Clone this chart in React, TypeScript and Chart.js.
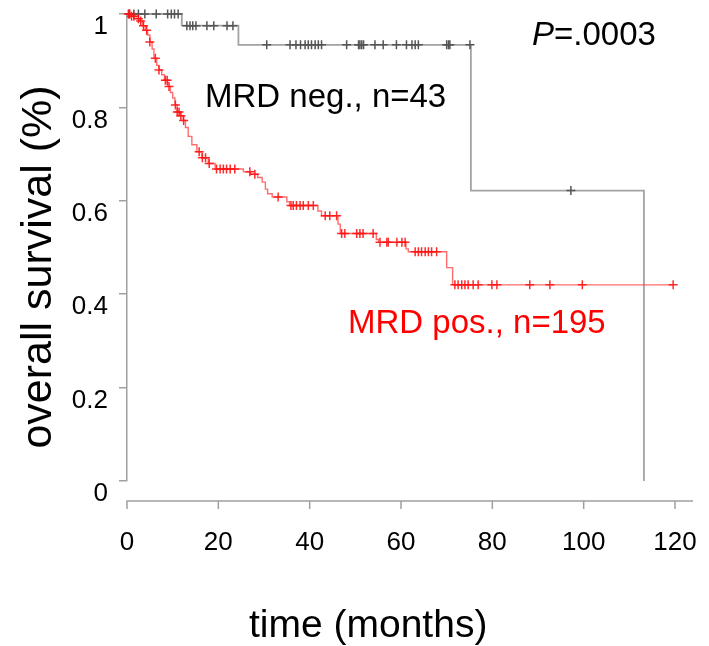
import React, { useEffect, useRef } from "react";
import { Chart, registerables } from "chart.js";

Chart.register(...registerables);

// ---- Data ----
const xTickValues = [0, 20, 40, 60, 80, 100, 120];

// MRD negative (n=43): step times (months) and survival after each step
const negTimes = [0, 12.0, 24.4, 75.3, 113.2];
const negSurv = [1.0, 0.975, 0.934, 0.622, 0.0];
const negCensor = [
  0.5, 1.5, 2.5, 3.9, 6.4, 8.9, 9.7, 10.4, 11.2,
  13.1, 13.8, 14.4, 15.1, 17.5, 19.0, 21.9, 23.2,
  30.6, 35.7, 37.0, 38.0, 39.0, 39.7, 40.4, 41.2, 41.9, 42.6, 48.1, 50.7, 51.0,
  51.4, 51.8, 54.3, 56.1, 59.0, 61.2, 62.4, 63.1, 63.8, 70.0, 70.4, 70.7, 75.1,
  97.2,
];

// MRD positive (n=195)
const posTimes = [
  0, 1.0, 2.0, 2.8, 3.4, 4.0, 4.5, 5.0, 5.5, 5.9, 6.5, 7.0, 7.6, 8.2, 8.9, 9.5,
  10.0, 10.5, 11.0, 11.6, 12.3, 12.8, 13.4, 14.2, 15.3, 16.4, 17.8, 19.3, 25.5,
  27.0, 28.6, 29.6, 30.3, 30.8, 31.8, 35.0, 35.6, 41.8, 42.6, 46.2, 46.7, 54.6,
  55.1, 61.1, 61.6, 70.0, 71.3, 119.6,
];
const posSurv = [
  1.0, 0.995, 0.99, 0.985, 0.975, 0.965, 0.955, 0.94, 0.925, 0.905, 0.89, 0.88,
  0.87, 0.858, 0.845, 0.832, 0.82, 0.805, 0.79, 0.782, 0.772, 0.757, 0.738, 0.72,
  0.705, 0.692, 0.68, 0.668, 0.662, 0.657, 0.65, 0.64, 0.625, 0.615, 0.608,
  0.598, 0.59, 0.578, 0.568, 0.55, 0.53, 0.517, 0.511, 0.497, 0.491, 0.457,
  0.42, 0.42,
];
const posCensor = [
  0.3, 0.6, 1.0, 1.5, 2.5, 3.0, 3.6, 4.3, 5.0, 6.2, 7.0, 8.4, 8.8, 9.2, 10.6,
  11.0, 11.4, 11.8, 12.4, 15.8, 16.5, 17.2, 18.0, 19.6, 20.4, 21.1, 21.8, 22.6,
  23.6, 26.9, 28.0, 33.1, 35.9, 36.4, 37.1, 37.9, 38.6, 39.7, 40.8, 43.4, 44.4,
  45.9, 47.0, 47.7, 50.3, 51.0, 51.7, 53.9, 55.4, 56.9, 57.2, 59.1, 60.2, 60.9,
  63.1, 63.8, 64.5, 65.3, 66.0, 66.7, 67.8, 71.8, 72.5, 73.3, 74.0, 74.7, 75.8,
  76.9, 79.9, 81.0, 88.2, 92.6, 99.7, 119.6,
];

const FONT = '"Liberation Sans", Arial, Helvetica, sans-serif';

function survAt(times: number[], surv: number[], t: number) {
  let v = surv[0];
  for (let i = 0; i < times.length; i++) {
    if (times[i] <= t) v = surv[i];
  }
  return v;
}

const rStylePlugin = {
  id: "rStyle",
  afterDraw(chart: any) {
    const ctx = chart.ctx as CanvasRenderingContext2D;
    const xs = chart.scales.x;
    const ys = chart.scales.y;
    const axisY = ys.bottom + 20;
    ctx.save();
    // detached x axis (R style)
    ctx.strokeStyle = "#a0a0a0";
    ctx.lineWidth = 1.5;
    ctx.beginPath();
    ctx.moveTo(xs.getPixelForValue(0) - 0.75, axisY);
    ctx.lineTo(xs.getPixelForValue(120) + 18, axisY);
    xTickValues.forEach((v) => {
      const px = xs.getPixelForValue(v);
      ctx.moveTo(px, axisY);
      ctx.lineTo(px, axisY + 8);
    });
    ctx.stroke();

    ctx.fillStyle = "#000";
    ctx.textBaseline = "alphabetic";
    ctx.textAlign = "left";
    // x title
    ctx.font = `39px ${FONT}`;
    ctx.fillText("time (months)", 249, 637);
    // y title
    ctx.save();
    ctx.translate(51, 267);
    ctx.rotate(-Math.PI / 2);
    ctx.textAlign = "center";
    ctx.font = `43px ${FONT}`;
    ctx.fillText("overall survival (%)", 0, 0);
    ctx.restore();

    // P value
    ctx.font = `italic 33px ${FONT}`;
    ctx.fillText("P", 532, 45);
    const pw = ctx.measureText("P").width;
    ctx.font = `33px ${FONT}`;
    ctx.fillText("=.0003", 532 + pw, 45);

    // group labels
    ctx.fillStyle = "#000";
    ctx.fillText("MRD neg., n=43", 205, 107);
    ctx.fillStyle = "#ff0000";
    ctx.fillText("MRD pos., n=195", 348, 333);
    ctx.restore();
  },
};

export default function App() {
  const canvasRef = useRef<HTMLCanvasElement | null>(null);

  useEffect(() => {
    if (!canvasRef.current) return;
    const negLine = negTimes.map((t, i) => ({ x: t, y: negSurv[i] }));
    const posLine = posTimes.map((t, i) => ({ x: t, y: posSurv[i] }));
    const negMarks = negCensor.map((t) => ({ x: t, y: survAt(negTimes, negSurv, t) }));
    const posMarks = posCensor.map((t) => ({ x: t, y: survAt(posTimes, posSurv, t) }));

    const chart = new Chart(canvasRef.current, {
      type: "line",
      data: {
        datasets: [
          {
            label: "MRD pos. censored",
            data: posMarks,
            showLine: false,
            pointStyle: "cross",
            pointRadius: 4.5,
            pointBorderWidth: 1.5,
            pointBorderColor: "rgba(255,20,20,0.9)",
            pointBackgroundColor: "rgba(255,20,20,0.9)",
            clip: false as any,
          },
          {
            label: "MRD pos.",
            data: posLine,
            stepped: true,
            borderColor: "rgba(255,60,60,0.75)",
            borderWidth: 1.4,
            pointRadius: 0,
            fill: false,
            clip: false as any,
          },
          {
            label: "MRD neg. censored",
            data: negMarks,
            showLine: false,
            pointStyle: "cross",
            pointRadius: 4.5,
            pointBorderWidth: 1.5,
            pointBorderColor: "#555555",
            pointBackgroundColor: "#555555",
            clip: false as any,
          },
          {
            label: "MRD neg.",
            data: negLine,
            stepped: true,
            borderColor: "#a3a3a3",
            borderWidth: 1.8,
            pointRadius: 0,
            fill: false,
            clip: false as any,
          },
        ],
      },
      options: {
        animation: false,
        responsive: false,
        devicePixelRatio: 1,
        layout: { padding: { top: 14, right: 34, bottom: 0, left: 0 } },
        plugins: {
          legend: { display: false },
          tooltip: { enabled: false },
          title: { display: false },
        },
        scales: {
          x: {
            type: "linear",
            min: 0,
            max: 120,
            afterFit: (scale: any) => {
              scale.height = 165;
              scale.paddingLeft = 0;
              scale.paddingRight = 0;
            },
            afterBuildTicks: (scale: any) => {
              scale.ticks = xTickValues.map((v) => ({ value: v }));
            },
            grid: { display: false, drawTicks: false },
            border: { display: false },
            ticks: {
              color: "#000",
              font: { family: FONT, size: 26 },
              padding: 46,
              maxRotation: 0,
              autoSkip: false,
            },
          },
          y: {
            type: "linear",
            min: 0,
            max: 1,
            afterFit: (scale: any) => {
              scale.width = 127;
              scale.paddingTop = 0;
              scale.paddingBottom = 0;
            },
            grid: {
              display: true,
              drawOnChartArea: false,
              drawTicks: true,
              tickLength: 8,
              color: "#a0a0a0",
              lineWidth: 1.5,
            },
            border: { display: true, color: "#a0a0a0", width: 1.5 },
            ticks: {
              stepSize: 0.2,
              color: "#000",
              font: { family: FONT, size: 26 },
              padding: 11,
              labelOffset: 13,
              callback: (v: any) => String(Math.round(Number(v) * 10) / 10),
            },
          },
        },
      },
      plugins: [rStylePlugin],
    });
    return () => chart.destroy();
  }, []);

  return (
    <div style={{ position: "absolute", left: 0, top: 0, width: 709, height: 646, background: "#fff" }}>
      <canvas ref={canvasRef} width={709} height={646} style={{ display: "block" }} />
    </div>
  );
}
